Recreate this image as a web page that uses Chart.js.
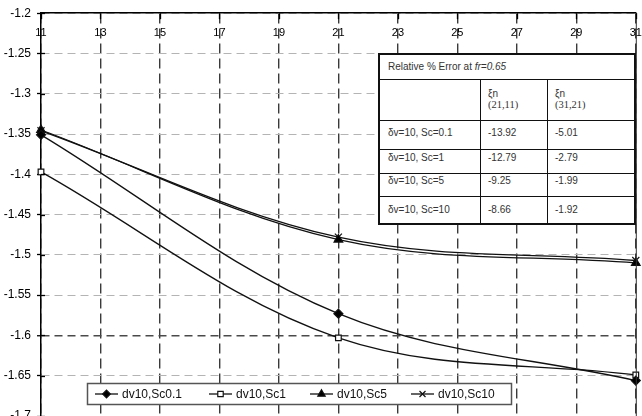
<!DOCTYPE html>
<html>
<head>
<meta charset="utf-8">
<script src="https://cdn.jsdelivr.net/npm/chart.js@4/dist/chart.umd.min.js"></script>
<style>
  html, body { margin: 0; padding: 0; background: #fff; }
  #wrap { position: relative; width: 642px; height: 416px; overflow: hidden; }
  #c { position: absolute; left: 0; top: 0; }
  #tbl { position: absolute; left: 378px; top: 53px; border-collapse: collapse; background: #fff;
         font-family: "Liberation Sans", Arial, sans-serif; font-size: 10px; color: #333; border: 2px solid #111; }
  #tbl td { border: 1.5px solid #111; padding: 0 0 0 8px; vertical-align: top; line-height: 11px; }
  #tbl .serif { font-family: "Liberation Serif", "Times New Roman", serif; font-size: 10.5px; }
</style>
</head>
<body>
<div id="wrap">
  <canvas id="c" width="642" height="430"></canvas>
  <table id="tbl"></table>
</div>
<script>
// ---- data ----
const xValues = [11, 21, 31];
const seriesLabels = ['dv10,Sc0.1', 'dv10,Sc1', 'dv10,Sc5', 'dv10,Sc10'];
const sc01 = [-1.351, -1.573, -1.656];
const sc1  = [-1.397, -1.603, -1.649];
const sc5  = [-1.345, -1.481, -1.510];
const sc10 = [-1.346, -1.478, -1.507];
const xTicks = [11, 13, 15, 17, 19, 21, 23, 25, 27, 29, 31];
const yTicks = [-1.2, -1.25, -1.3, -1.35, -1.4, -1.45, -1.5, -1.55, -1.6, -1.65, -1.7];

// table content
const tableTitle = 'Relative % Error at ';
const tableTitleItalic = 'fr=0.65';
const tableCols = [['ξn', '(21,11)'], ['ξn', '(31,21)']];
const tableRows = ['δv=10, Sc=0.1', 'δv=10, Sc=1', 'δv=10, Sc=5', 'δv=10, Sc=10'];
const err2111 = ['-13.92', '-12.79', '-9.25', '-8.66'];
const err3121 = ['-5.01', '-2.79', '-1.99', '-1.92'];

// ---- build table ----
(function () {
  const t = document.getElementById('tbl');
  const colW = [101, 68, 88];
  const rowH = [25, 41, 29, 24, 23, 28];
  let html = '<tr style="height:' + rowH[0] + 'px"><td colspan="3" style="vertical-align:middle">' +
    tableTitle + '<i>' + tableTitleItalic + '</i></td></tr>';
  html += '<tr style="height:' + rowH[1] + 'px"><td style="width:' + (colW[0] - 9) + 'px"></td>';
  tableCols.forEach((c, i) => {
    html += '<td style="width:' + (colW[i + 1] - 9) + 'px;padding-top:8px;padding-left:7px">' + c[0] +
      '<br><span class="serif">' + c[1] + '</span></td>';
  });
  html += '</tr>';
  const pads = [6, 2, 1, 7];
  tableRows.forEach((r, i) => {
    html += '<tr style="height:' + rowH[i + 2] + 'px"><td style="padding-top:' + pads[i] + 'px">' + r +
      '</td><td style="padding-top:' + pads[i] + 'px;padding-left:7px">' + err2111[i] +
      '</td><td style="padding-top:' + pads[i] + 'px;padding-left:7px">' + err3121[i] + '</td></tr>';
  });
  t.innerHTML = html;
})();

const FONT = '"Liberation Sans", Arial, sans-serif';

function mk(data) { return xValues.map((x, i) => ({ x: x, y: data[i] })); }

const styles = [
  { pointStyle: 'rectRot', radius: 4.5, bg: '#000' },
  { pointStyle: 'rect', radius: 4, bg: '#fff' },
  { pointStyle: 'triangle', radius: 5, bg: '#000' },
  { pointStyle: 'crossRot', radius: 5, bg: '#000' }
];
const allData = [sc01, sc1, sc5, sc10];

const datasets = allData.map((d, i) => ({
  label: seriesLabels[i],
  data: mk(d),
  borderColor: '#111',
  borderWidth: 1.3,
  backgroundColor: styles[i].bg,
  pointStyle: styles[i].pointStyle,
  pointRadius: styles[i].radius,
  pointBorderColor: '#111',
  pointBackgroundColor: styles[i].bg,
  pointBorderWidth: 1.2,
  tension: 0.35,
  clip: false,
  fill: false
}));

function drawMarker(ctx, style, r, x, y) {
  ctx.save();
  ctx.fillStyle = style === 'rect' ? '#fff' : '#000';
  ctx.strokeStyle = '#111';
  ctx.lineWidth = 1.2;
  ctx.beginPath();
  if (style === 'rect') {
    ctx.rect(x - r * 0.8, y - r * 0.8, r * 1.6, r * 1.6);
    ctx.fill(); ctx.stroke();
  } else {
    Chart.helpers.drawPoint(ctx, { pointStyle: style, radius: r, borderWidth: 1.2, rotation: 0 }, x, y);
  }
  ctx.restore();
}

const overlay = {
  id: 'overlay',
  afterDraw(chart) {
    const ctx = chart.ctx;
    const xs = chart.scales.x, ys = chart.scales.y;
    const a = chart.chartArea;
    ctx.save();
    // right border
    ctx.strokeStyle = '#333';
    ctx.lineWidth = 1;
    ctx.beginPath(); ctx.moveTo(a.right + 0.5, a.top); ctx.lineTo(a.right + 0.5, a.bottom); ctx.stroke();
    // inner ticks
    ctx.strokeStyle = '#000';
    ctx.lineWidth = 1.3;
    xTicks.forEach(v => {
      const px = Math.round(xs.getPixelForValue(v)) + 0.5;
      ctx.beginPath(); ctx.moveTo(px, a.top); ctx.lineTo(px, a.top + 6); ctx.stroke();
    });
    yTicks.forEach(v => {
      const py = Math.round(ys.getPixelForValue(v)) + 0.5;
      ctx.beginPath(); ctx.moveTo(a.left, py); ctx.lineTo(a.left + 4, py); ctx.stroke();
    });
    // x labels inside plot
    ctx.fillStyle = '#000';
    ctx.font = '11px ' + FONT;
    ctx.textAlign = 'center';
    ctx.textBaseline = 'middle';
    xTicks.forEach(v => {
      ctx.fillText(String(v), xs.getPixelForValue(v), a.top + 20);
    });
    // legend
    const lx = 87.5, ly = 383.5, lw = 424, lh = 21;
    ctx.fillStyle = '#fff';
    ctx.fillRect(lx, ly, lw, lh);
    ctx.strokeStyle = '#555';
    ctx.lineWidth = 1.5;
    ctx.strokeRect(lx, ly, lw, lh);
    const itemX = [95, 209, 310, 411];
    const cy = ly + lh / 2;
    ctx.font = '12px ' + FONT;
    ctx.textAlign = 'left';
    chart.data.datasets.forEach((ds, i) => {
      const x0 = itemX[i];
      ctx.strokeStyle = '#111';
      ctx.lineWidth = 1.3;
      ctx.beginPath(); ctx.moveTo(x0, cy); ctx.lineTo(x0 + 23, cy); ctx.stroke();
      drawMarker(ctx, ds.pointStyle, ds.pointRadius * 0.85, x0 + 11.5, cy);
      ctx.fillStyle = '#111';
      ctx.fillText(ds.label, x0 + 27, cy + 0.5);
    });
    ctx.restore();
  }
};

new Chart(document.getElementById('c'), {
  type: 'line',
  data: { datasets: datasets },
  plugins: [overlay],
  options: {
    responsive: false,
    animation: false,
    events: [],
    layout: { padding: { left: 0, right: 5, top: 0, bottom: 14 } },
    plugins: { legend: { display: false }, tooltip: { enabled: false } },
    scales: {
      x: {
        type: 'linear',
        position: 'top',
        min: 11, max: 31,
        afterFit(s) { s.height = 11; },
        afterBuildTicks(s) { s.ticks = xTicks.map(v => ({ value: v })); },
        ticks: { display: false },
        grid: { color: '#3a3a3a', lineWidth: 1.4, drawTicks: false },
        border: { display: true, color: '#000', width: 1.5, dash: [10, 5] }
      },
      y: {
        type: 'linear',
        min: -1.7, max: -1.2,
        afterFit(s) { s.width = 41; },
        afterBuildTicks(s) { s.ticks = yTicks.map(v => ({ value: v })); },
        ticks: {
          color: '#000', padding: 6,
          font: { family: FONT, size: 12 },
          callback: (v) => String(Math.round(v * 100) / 100)
        },
        grid: {
          color: (c) => (c.tick && Math.abs(c.tick.value + 1.6) < 1e-6) ? '#4a4a4a' : '#b4b4b4',
          lineWidth: (c) => (c.tick && Math.abs(c.tick.value + 1.6) < 1e-6) ? 1.5 : 1,
          tickColor: '#000', tickLength: 4, tickWidth: 1.3
        },
        border: { display: true, color: '#000', width: 1.5, dash: [8, 5] }
      }
    }
  }
});
</script>
</body>
</html>
